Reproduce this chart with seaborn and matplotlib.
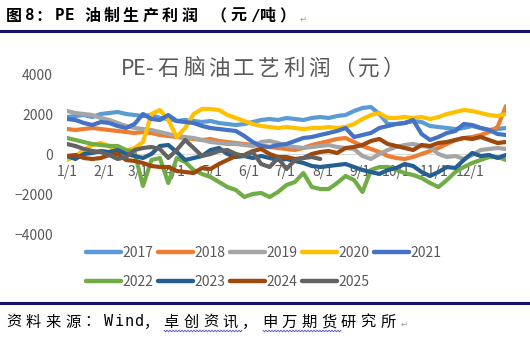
import matplotlib
matplotlib.use("Agg")
import matplotlib.pyplot as plt
from matplotlib.lines import Line2D
import numpy as np
import pandas as pd
import seaborn as sns

W, H = 530, 343
CJK = ["Noto Sans CJK SC", "DejaVu Sans"]
MONO = ["DejaVu Sans Mono", "Noto Sans CJK SC"]
TXT = "#595959"

# weekly observations, day-of-year offsets
days = list(range(0, 365, 7))
month_days = [0, 31, 59, 90, 120, 151, 181, 212, 243, 273, 304, 334]
month_labels = ["1/1", "2/1", "3/1", "4/1", "5/1", "6/1",
                "7/1", "8/1", "9/1", "10/1", "11/1", "12/1"]

years = ["2017", "2018", "2019", "2020", "2021", "2022", "2023", "2024", "2025"]
colors = ["#5B9BD5", "#ED7D31", "#A5A5A5", "#FFC000", "#4472C4",
          "#70AD47", "#255E91", "#9E480E", "#636363"]

p2017 = [1850, 1900, 1950, 1850, 2000, 2050, 2100, 2000, 1950, 1900, 1950, 1800, 1750,
         1650, 1700, 1650, 1600, 1650, 1550, 1500, 1450, 1500, 1600, 1700, 1750, 1700,
         1800, 1750, 1700, 1800, 1850, 1800, 1900, 1950, 2150, 2300, 2350, 2000, 1500,
         1500, 1550, 1650, 1600, 1400, 1350, 1300, 1250, 1300, 1400, 1300, 1200, 1250, 1300]
p2018 = [1250, 1200, 1250, 1300, 1250, 1200, 1150, 1100, 1050, 1100, 1050, 950, 900,
         850, 800, 750, 700, 750, 650, 600, 550, 500, 450, 400, 350, 300,
         250, 200, 300, 450, 550, 650, 750, 800, 600, 400, 250, 100, -100,
         -200, -250, -150, 0, 150, 300, 500, 700, 800, 850, 950, 1100, 1350, 2400]
p2019 = [2150, 2050, 2000, 1950, 1800, 1700, 1550, 1400, 1300, 1250, 1200, 1100, 1000,
         900, 850, 800, 700, 600, 550, 500, 500, 450, 400, 600, 650, 550,
         400, 350, 300, 350, 400, 450, 350, 300, 250, -100, -250, 0, 200,
         350, 450, 500, 400, 350, 0, -150, -100, -250, -50, 200, 250, 300, 250]
p2020 = [-300, -100, 200, 450, 550, 400, 100, 150, 300, 600, 2000, 2200, 1700,
         850, 1300, 2000, 2250, 2250, 2200, 1950, 1800, 1650, 1500, 1400, 1350, 1300,
         1350, 1300, 1250, 1300, 1300, 1350, 1300, 1350, 1500, 1750, 1950, 2050, 1800,
         1800, 1850, 1800, 1850, 1750, 1850, 2000, 2100, 2200, 2150, 2050, 1950, 1900, 2000]
p2021 = [1750, 1700, 1550, 1450, 1600, 1550, 1400, 1300, 1500, 2000, 1750, 1700, 1950,
         1650, 1600, 1550, 1400, 1300, 1250, 1200, 1150, 900, 600, 400, 350, 450,
         500, 650, 800, 850, 950, 1050, 1150, 1300, 850, 950, 1050, 1300, 1400,
         1500, 1550, 1700, 1000, 700, 850, 1050, 1150, 1500, 1450, 1300, 1200, 1000, 950]
p2022 = [800, 700, 600, 500, 450, 400, 400, 200, 100, -1600, -300, -200, -1450,
         -200, -400, -800, -1000, -1150, -1400, -1650, -1800, -2150, -2000, -1950, -2150, -1900,
         -1550, -1400, -950, -1650, -1750, -1750, -1450, -1100, -1300, -1900, -800, -650, -650,
         -800, -950, -1050, -1200, -1450, -1650, -1300, -900, -650, -450, -300, -150, -150, -300]
p2023 = [-100, -250, 0, 50, 150, 100, 200, 0, -100, -200, 0, 400, 450,
         100, -300, -200, -100, 200, 300, 0, -150, -100, -200, -100, -200, -300,
         -250, -350, -450, -600, -650, -600, -550, -500, -650, -800, -900, -1000, -800,
         -700, -500, -600, -900, -1100, -900, -650, -700, -300, 50, -100, -50, -200, -50]
p2024 = [-100, -50, -200, -250, -200, -50, 0, -300, -350, -450, -600, -650, -650,
         -850, -900, -950, -700, -750, -500, -300, -100, -50, 150, 250, 0, -150,
         -150, -250, -200, 0, 100, 150, 50, 300, 350, 450, 650, 750, 500,
         400, 300, 200, 450, 400, 550, 600, 700, 800, 750, 850, 700, 550, 600]
p2025 = [500, 400, 250, 150, 100, -50, -250, -150, 200, 300, 350, 250, -200,
         200, 700, 300, -100, 0, 150, 200, 0, -100, 100, -500, -650, -200,
         -750, -300, -200, -150, -250]

series = [p2017, p2018, p2019, p2020, p2021, p2022, p2023, p2024, p2025]
frames = [pd.DataFrame({"day": days[:len(v)], "profit": v, "year": y})
          for y, v in zip(years, series)]
df = pd.concat(frames, ignore_index=True)

sns.set_theme(style="white")
plt.rcParams["font.family"] = CJK

fig = plt.figure(figsize=(W / 100, H / 100), dpi=100)
fig.patch.set_facecolor("white")

ax = fig.add_axes([67 / W, (H - 234) / H, (506 - 67) / W, 160 / H])
ax.patch.set_visible(False)

sns.lineplot(data=df, x="day", y="profit", hue="year", hue_order=years,
             palette=dict(zip(years, colors)), estimator=None, sort=False,
             linewidth=3.0, legend=False, ax=ax)
for ln in ax.get_lines():
    ln.set_solid_joinstyle("round")
    ln.set_solid_capstyle("round")

ax.set_xlim(0, 364)
ax.set_ylim(-4000, 4000)
ax.set_xlabel("")
ax.set_ylabel("")
ax.set_yticks([-4000, -2000, 0, 2000, 4000])
ax.set_xticks(month_days)
ax.set_xticklabels(month_labels)
for s in ["top", "right", "left"]:
    ax.spines[s].set_visible(False)
ax.spines["bottom"].set_position(("data", 0))
ax.spines["bottom"].set_color("#D9D9D9")
ax.spines["bottom"].set_linewidth(0.8)
ax.spines["bottom"].set_zorder(1)
ax.tick_params(axis="y", length=0, pad=10, labelsize=10, labelcolor=TXT)
ax.tick_params(axis="x", length=0, pad=8, labelsize=10, labelcolor=TXT)

# legend: two rows, 2017-2021 on top and 2022-2025 below
order = [0, 5, 1, 6, 2, 7, 3, 8, 4]
handles = [Line2D([], [], color=colors[i], lw=3.2, solid_capstyle="round") for i in order]
labels = [years[i] for i in order]
leg = fig.legend(handles, labels, ncol=5, loc="upper left",
                 bbox_to_anchor=(86 / W, 1 - 246 / H), frameon=False, fontsize=10,
                 handlelength=2.5, handletextpad=0.15, columnspacing=0.3,
                 labelspacing=1.1, borderpad=0, borderaxespad=0)
for t in leg.get_texts():
    t.set_color(TXT)


def is_wide(ch):
    return ord(ch) > 0x2E80


def pitched(x, y, text, size, full, half, color="black", weight="normal", half_family=None):
    for ch in text:
        fam = CJK if (is_wide(ch) or half_family is None) else half_family
        fig.text(x / W, 1 - y / H, ch, fontsize=size, color=color, family=fam,
                 weight=weight, ha="left", va="center")
        x += full if is_wide(ch) else half
    return x


# caption above the chart
end = pitched(6, 16, "图8：PE 油制生产利润 （元/吨）", 11.5, 19.5, 9.75,
              color="black", weight="bold", half_family=MONO)
fig.text((end + 1) / W, 1 - 19 / H, "↵", fontsize=6, color="#999999",
         family=["DejaVu Sans"], ha="left", va="center")

# chart title
pitched(121, 69, "PE-石脑油工艺利润（元）", 15.5, 25, 12.3, color=TXT)

# rules
fig.add_artist(Line2D([0, 1], [1 - 31 / H, 1 - 31 / H], color="#14146b", lw=2.2,
                      transform=fig.transFigure))
fig.add_artist(Line2D([0, 1], [1 - 302.5 / H, 1 - 302.5 / H], color="#14146b", lw=2.2,
                      transform=fig.transFigure))

# source note
end = pitched(6, 322, "资料来源：Wind，卓创资讯，申万期货研究所", 11, 19.7, 9.85,
              color="black", half_family=MONO)
fig.text((end + 1) / W, 1 - 324 / H, "↵", fontsize=6, color="#999999",
         family=["DejaVu Sans"], ha="left", va="center")


def wavy(x0, x1, y):
    xs = np.arange(x0, x1 + 0.1, 1.5)
    ys = y + np.where(np.arange(len(xs)) % 2 == 0, -0.8, 0.8)
    fig.add_artist(Line2D(xs / W, 1 - ys / H, color="#4a4ac8", lw=0.6,
                          transform=fig.transFigure))


wavy(164, 243, 331)
wavy(263, 341, 331)

fig.savefig("out.png", dpi=100, facecolor="white")
